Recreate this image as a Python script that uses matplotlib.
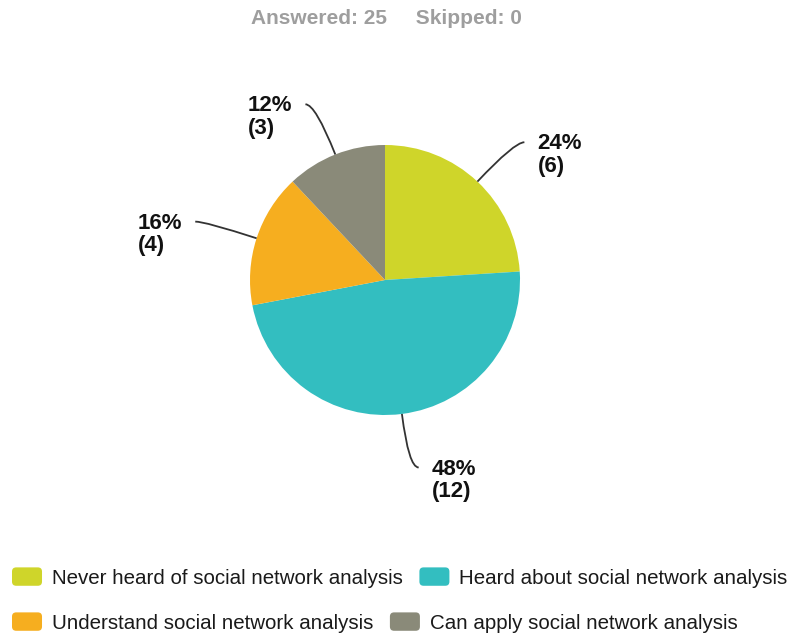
import numpy as np
import matplotlib.pyplot as plt
from matplotlib.path import Path
from matplotlib.patches import PathPatch, Patch, FancyBboxPatch
from matplotlib.legend_handler import HandlerPatch

plt.rcParams['font.family'] = ['Liberation Sans', 'DejaVu Sans']

# survey data
categories = ['Never heard of social network analysis',
              'Heard about social network analysis',
              'Understand social network analysis',
              'Can apply social network analysis']
counts = [6, 12, 4, 3]
answered = sum(counts)
skipped = 0
colors = ['#cfd52a', '#33bec0', '#f6ae1f', '#8a8a79']

W, H = 796, 635
fig = plt.figure(figsize=(W / 100, H / 100), dpi=100)
ax = fig.add_axes([0, 0, 1, 1])

cx, cy, R = 385, H - 280, 135
wedges, _ = ax.pie(counts, colors=colors, startangle=90, counterclock=False,
                   center=(cx, cy), radius=R, frame=True,
                   wedgeprops=dict(linewidth=0))
ax.set_xlim(0, W)
ax.set_ylim(0, H)
ax.set_aspect('equal')
ax.axis('off')

# labels with curved leader lines
for w, n in zip(wedges, counts):
    mid = np.deg2rad((w.theta1 + w.theta2) / 2)
    c, s = np.cos(mid), np.sin(mid)
    p0 = (cx + R * c, cy + R * s)
    elbow = (cx + 1.4 * R * c, cy + 1.4 * R * s)
    side = 1 if c >= 0 else -1
    p1 = (elbow[0] + side * 10, elbow[1])
    path = Path([p0, elbow, p1], [Path.MOVETO, Path.CURVE3, Path.CURVE3])
    ax.add_patch(PathPatch(path, facecolor='none', edgecolor='#333333', lw=1.3))
    pct = round(100 * n / answered)
    ax.text(p1[0] + side * 13, p1[1] + 9, f'{pct}%\n({n})',
            ha='left' if side > 0 else 'right', va='top', multialignment='left',
            fontsize=16, fontweight='bold', color='#111111', linespacing=1.1)

# header
ax.text(386, H - 18, f'Answered: {answered}     Skipped: {skipped}',
        ha='center', va='center', fontsize=15, fontweight='bold', color='#9e9e9e')


def rounded(legend, orig_handle, xdescent, ydescent, width, height, fontsize):
    return FancyBboxPatch((-xdescent, -ydescent), width, height,
                          boxstyle='round,pad=0,rounding_size=3')


handles = [Patch(facecolor=c, edgecolor='none') for c in colors]
hmap = {Patch: HandlerPatch(patch_func=rounded)}
common = dict(ncol=2, loc='center left', frameon=False, fontsize=14.8,
              handlelength=1.46, handleheight=1.0, handletextpad=0.49,
              columnspacing=0.8, borderpad=0, borderaxespad=0, handler_map=hmap)
leg1 = ax.legend(handles[:2], categories[:2],
                 bbox_to_anchor=(12 / W, 1 - 577.5 / H), **common)
ax.add_artist(leg1)
leg2 = ax.legend(handles[2:], categories[2:],
                 bbox_to_anchor=(12 / W, 1 - 622.5 / H), **common)
for leg in (leg1, leg2):
    for t in leg.get_texts():
        t.set_color('#1a1a1a')

fig.savefig('out.png', dpi=100)
